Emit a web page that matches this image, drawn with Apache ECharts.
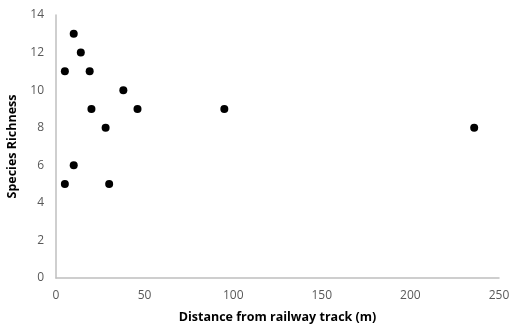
<!DOCTYPE html>
<html>
<head>
<meta charset="utf-8">
<script src="https://cdn.jsdelivr.net/npm/echarts@6/dist/echarts.min.js"></script>
<style>html,body{margin:0;padding:0;background:#fff}#c{width:511px;height:325px}</style>
</head>
<body>
<div id="c"></div>
<script>
const distance = [5, 10, 14, 19, 20, 28, 38, 46, 95, 236, 10, 5, 30];
const richness = [11, 13, 12, 11, 9, 8, 10, 9, 9, 8, 6, 5, 5];
const xTitle = 'Distance from railway track (m)';
const yTitle = 'Species Richness';

const chart = echarts.init(document.getElementById('c'), null, {renderer: 'canvas'});
const labelStyle = {color: '#595959', fontSize: 12, fontFamily: 'Open Sans, sans-serif'};
chart.setOption({
  animation: false,
  grid: {left: 56, right: 12, top: 15, bottom: 47, containLabel: false, outerBoundsMode: 'none'},
  xAxis: {
    type: 'value', min: 0, max: 250, interval: 50,
    name: xTitle, nameLocation: 'middle', nameGap: 33,
    nameTextStyle: {color: '#000', fontWeight: 'bold', fontSize: 12.5, fontFamily: 'Open Sans, sans-serif'},
    axisLine: {show: true, lineStyle: {color: '#bfbfbf', width: 1.5}},
    axisTick: {show: false},
    splitLine: {show: false},
    axisLabel: Object.assign({margin: 12}, labelStyle)
  },
  yAxis: {
    type: 'value', min: 0, max: 14, interval: 2,
    name: yTitle, nameLocation: 'middle', nameGap: 31,
    nameTextStyle: {color: '#000', fontWeight: 'bold', fontSize: 12.5, fontFamily: 'Open Sans, sans-serif'},
    axisLine: {show: true, lineStyle: {color: '#bfbfbf', width: 1.5}},
    axisTick: {show: false},
    splitLine: {show: false},
    axisLabel: Object.assign({margin: 12}, labelStyle)
  },
  series: [{
    type: 'scatter',
    symbolSize: 8,
    itemStyle: {color: '#000', opacity: 1},
    data: distance.map((d, i) => [d, richness[i]])
  }]
});
</script>
</body>
</html>
